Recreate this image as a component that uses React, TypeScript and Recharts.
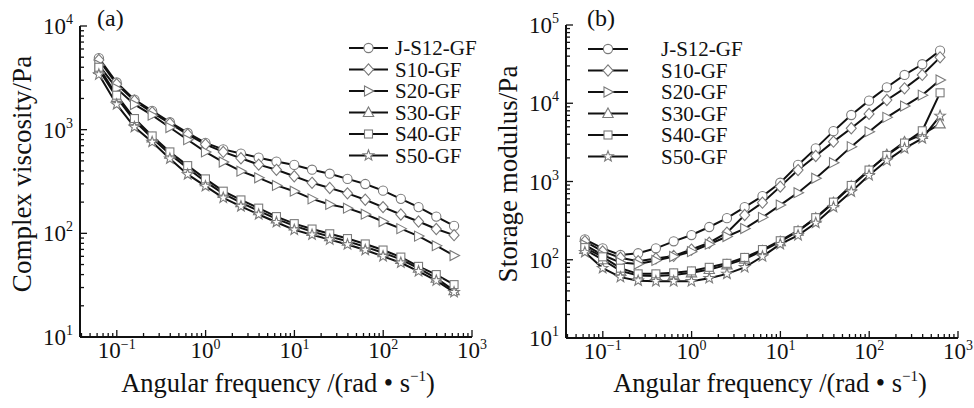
import { LineChart, Line, XAxis, YAxis, Legend } from 'recharts';

// angular frequency, rad/s (0.01 - 100 Hz sweep)
const FREQ = [0.0628, 0.0996, 0.158, 0.25, 0.396, 0.628, 0.996, 1.58, 2.5, 3.96, 6.28, 9.96, 15.8, 25.0, 39.6, 62.8, 99.6, 158, 250, 396, 628];

const SERIES_NAMES = ['J-S12-GF', 'S10-GF', 'S20-GF', 'S30-GF', 'S40-GF', 'S50-GF'];
const SERIES_SHAPES = ['circle', 'diamond', 'triangleRight', 'triangleUp', 'square', 'star'];

// (a) complex viscosity, Pa
const ETA_JS12 = [4900, 2850, 1950, 1520, 1180, 930, 745, 645, 588, 537, 492, 457, 411, 376, 335, 299, 258, 215, 179, 145, 118];
const ETA_S10 = [4700, 2750, 1900, 1470, 1150, 900, 720, 610, 530, 460, 410, 355, 307, 274, 243, 211, 179, 152, 130, 110, 96];
const ETA_S20 = [4200, 2500, 1750, 1380, 1050, 800, 610, 487, 398, 343, 290, 255, 215, 190, 175, 153, 130, 111, 94, 76, 61];
const ETA_S30 = [3800, 2050, 1220, 830, 580, 425, 315, 242, 198, 165, 138, 118, 104, 93, 84, 74, 65, 56, 46, 37, 28];
const ETA_S40 = [4000, 2150, 1280, 870, 610, 450, 335, 255, 210, 175, 145, 124, 110, 99, 89, 79, 69, 59, 48, 40, 32];
const ETA_S50 = [3400, 1750, 1060, 760, 525, 370, 285, 220, 182, 152, 128, 108, 97, 87, 78, 69, 60, 52, 43, 35, 27];

// (b) storage modulus, Pa
const G_JS12 = [182, 140, 115, 121, 140, 172, 207, 262, 340, 470, 650, 966, 1630, 2650, 4400, 7080, 10800, 16000, 23000, 31500, 47000];
const G_S10 = [172, 128, 106, 96, 104, 112, 135, 165, 222, 373, 536, 860, 1400, 2120, 3230, 4790, 7300, 11000, 15500, 23000, 38600];
const G_S20 = [155, 115, 92, 88, 98, 110, 127, 158, 198, 250, 348, 500, 720, 1100, 1740, 2790, 4330, 6600, 9200, 12700, 19800];
const G_S30 = [135, 100, 72, 63, 62, 64, 68, 75, 86, 102, 130, 170, 232, 340, 535, 870, 1380, 2200, 3200, 4000, 5450];
const G_S40 = [143, 109, 78, 66, 66, 68, 72, 80, 90, 107, 135, 175, 235, 345, 545, 890, 1400, 2150, 3100, 4450, 13600];
const G_S50 = [125, 78, 60, 54, 53, 53, 53, 58, 66, 80, 110, 158, 205, 295, 470, 740, 1200, 1850, 2650, 3550, 6900];

// major tick values; minor ticks are the 2..9 multiples inside each decade
const X_MAJOR = [0.01, 0.1, 1, 10, 100, 1000];
const YA_MAJOR = [10, 100, 1000, 10000];
const YB_MAJOR = [10, 100, 1000, 10000, 100000];

const FONT = '"Liberation Serif", "Times New Roman", serif';
const INK = '#111';

const withMinor = (majors: number[], lo: number, hi: number) =>
  majors
    .flatMap((d) => [1, 2, 3, 4, 5, 6, 7, 8, 9].map((k) => +(k * d).toPrecision(3)))
    .filter((v) => v >= lo && v <= hi);

const exponentOf = (v: number) => {
  const e = Math.log10(v);
  return Math.abs(e - Math.round(e)) < 1e-6 ? Math.round(e) : null;
};

const supText = (e: number) => (e < 0 ? `\u2212${-e}` : `${e}`);

function Marker({ cx, cy, shape }: { cx?: number; cy?: number; shape: string }) {
  if (cx == null || cy == null || Number.isNaN(cx) || Number.isNaN(cy)) return null;
  const st = { fill: '#fff', stroke: '#7a7a7a', strokeWidth: 1.1 };
  switch (shape) {
    case 'circle':
      return <circle cx={cx} cy={cy} r={4.6} {...st} />;
    case 'diamond':
      return <polygon points={`${cx},${cy - 5.6} ${cx + 5},${cy} ${cx},${cy + 5.6} ${cx - 5},${cy}`} {...st} />;
    case 'triangleRight':
      return <polygon points={`${cx - 4},${cy - 5} ${cx + 5.5},${cy} ${cx - 4},${cy + 5}`} {...st} />;
    case 'triangleUp':
      return <polygon points={`${cx},${cy - 5.5} ${cx + 5.2},${cy + 4} ${cx - 5.2},${cy + 4}`} {...st} />;
    case 'square':
      return <rect x={cx - 4} y={cy - 4} width={8} height={8} {...st} />;
    default: {
      const pts: string[] = [];
      for (let k = 0; k < 10; k++) {
        const r = k % 2 === 0 ? 5.6 : 2.3;
        const a = -Math.PI / 2 + (k * Math.PI) / 5;
        pts.push(`${cx + r * Math.cos(a)},${cy + r * Math.sin(a)}`);
      }
      return <polygon points={pts.join(' ')} {...st} />;
    }
  }
}

function XTick(props: any) {
  const { x, y, payload } = props;
  const e = exponentOf(payload.value);
  return (
    <g>
      <line x1={x} x2={x} y1={y} y2={y - (e !== null ? 7 : 4)} stroke={INK} strokeWidth={1.3} />
      {e !== null && (
        <text x={x} y={y + 21} textAnchor="middle" fontFamily={FONT} fontSize={23} fill={INK}>
          10<tspan dy={-9} fontSize={14}>{supText(e)}</tspan>
        </text>
      )}
    </g>
  );
}

function YTick(props: any) {
  const { x, y, payload } = props;
  const e = exponentOf(payload.value);
  return (
    <g>
      <line x1={x} x2={x + (e !== null ? 7 : 4)} y1={y} y2={y} stroke={INK} strokeWidth={1.3} />
      {e !== null && (
        <text x={x - 7} y={y + 8} textAnchor="end" fontFamily={FONT} fontSize={23} fill={INK}>
          10<tspan dy={-10} fontSize={14}>{supText(e)}</tspan>
        </text>
      )}
    </g>
  );
}

const makeLegend = (x1: number, x2: number, tx: number) => (props: any) => (
  <svg width={190} height={140} style={{ display: 'block', overflow: 'visible' }}>
    {(props.payload ?? []).map((entry: any, k: number) => {
      const cy = 12 + k * 21.5;
      const shape = SERIES_SHAPES[SERIES_NAMES.indexOf(entry.value)];
      return (
        <g key={entry.value}>
          <line x1={x1} x2={x2} y1={cy} y2={cy} stroke={INK} strokeWidth={2} />
          <Marker cx={(x1 + x2) / 2} cy={cy} shape={shape} />
          <text x={tx} y={cy + 7} fontFamily={FONT} fontSize={21} fill={INK}>
            {entry.value}
          </text>
        </g>
      );
    })}
  </svg>
);

interface PanelProps {
  series: number[][];
  yDomain: [number, number];
  yMajor: number[];
  yTitle: string;
  tag: string;
  tagX: number;
  width: number;
  top: number;
  xTitleDx: number;
  legendPos: { left: number; top: number };
  legendLayout: [number, number, number];
}

function Panel({ series, yDomain, yMajor, yTitle, tag, tagX, width, top, xTitleDx, legendPos, legendLayout }: PanelProps) {
  const data = FREQ.map((w, i) => {
    const row: Record<string, number> = { w };
    series.forEach((s, k) => {
      row[`s${k}`] = s[i];
    });
    return row;
  });
  const xTicks = withMinor(X_MAJOR, 0.0385, 1000);
  const yTicks = withMinor(yMajor, yDomain[0], yDomain[1]);
  const plotLeft = 80;
  const plotRight = 472;
  const xCenter = (plotLeft + plotRight) / 2 + xTitleDx;

  return (
    <LineChart width={width} height={408} data={data} margin={{ top, right: width - plotRight, bottom: 408 - 50 - 337 - (top === 25 ? 1 : 0), left: 20 }}>
      <XAxis
        dataKey="w"
        type="number"
        scale="log"
        domain={[0.0385, 1000]}
        allowDataOverflow
        ticks={xTicks}
        interval={0}
        tickSize={0}
        tickMargin={0}
        height={50}
        axisLine={{ stroke: INK, strokeWidth: 2 }}
        tickLine={false}
        tick={<XTick />}
        label={() => (
          <text x={xCenter} y={392} textAnchor="middle" fontFamily={FONT} fontSize={26.5} fill={INK}>
            Angular frequency /(rad • s<tspan dy={-11} fontSize={15}>{'\u22121'}</tspan>
            <tspan dy={11}>)</tspan>
          </text>
        )}
      />
      <YAxis
        type="number"
        scale="log"
        domain={yDomain}
        allowDataOverflow
        ticks={yTicks}
        interval={0}
        tickSize={0}
        tickMargin={0}
        width={60}
        axisLine={{ stroke: INK, strokeWidth: 2 }}
        tickLine={false}
        tick={<YTick />}
        label={() => (
          <g>
            <text
              x={31}
              y={174}
              transform="rotate(-90 31 174)"
              textAnchor="middle"
              fontFamily={FONT}
              fontSize={27}
              fill={INK}
            >
              {yTitle}
            </text>
            <text x={tagX} y={26} fontFamily={FONT} fontSize={24} fill={INK}>
              {tag}
            </text>
          </g>
        )}
      />
      <Legend
        layout="vertical"
        align="center"
        verticalAlign="middle"
        wrapperStyle={{ left: legendPos.left, top: legendPos.top, width: 190, height: 140 }}
        content={makeLegend(...legendLayout)}
      />
      {series.map((_, k) => (
        <Line
          key={SERIES_NAMES[k]}
          dataKey={`s${k}`}
          name={SERIES_NAMES[k]}
          stroke={INK}
          strokeWidth={2}
          isAnimationActive={false}
          activeDot={false}
          dot={(p: any) => <Marker key={`${k}-${p.index}`} cx={p.cx} cy={p.cy} shape={SERIES_SHAPES[k]} />}
        />
      ))}
    </LineChart>
  );
}

export default function App() {
  return (
    <div style={{ position: 'absolute', left: 0, top: 0, width: 974, height: 408, background: '#fff' }}>
      <div style={{ position: 'absolute', left: 0, top: 0 }}>
        <Panel
          series={[ETA_JS12, ETA_S10, ETA_S20, ETA_S30, ETA_S40, ETA_S50]}
          yDomain={[10, 10000]}
          yMajor={YA_MAJOR}
          yTitle="Complex viscosity/Pa"
          tag="(a)"
          tagX={97}
          width={487}
          top={26}
          xTitleDx={2}
          legendPos={{ left: 340, top: 36 }}
          legendLayout={[9, 48, 55]}
        />
      </div>
      <div style={{ position: 'absolute', left: 486, top: 0 }}>
        <Panel
          series={[G_JS12, G_S10, G_S20, G_S30, G_S40, G_S50]}
          yDomain={[10, 100000]}
          yMajor={YB_MAJOR}
          yTitle="Storage modulus/Pa"
          tag="(b)"
          tagX={101}
          width={488}
          top={25}
          xTitleDx={8}
          legendPos={{ left: 95, top: 37 }}
          legendLayout={[7, 47, 80]}
        />
      </div>
    </div>
  );
}
